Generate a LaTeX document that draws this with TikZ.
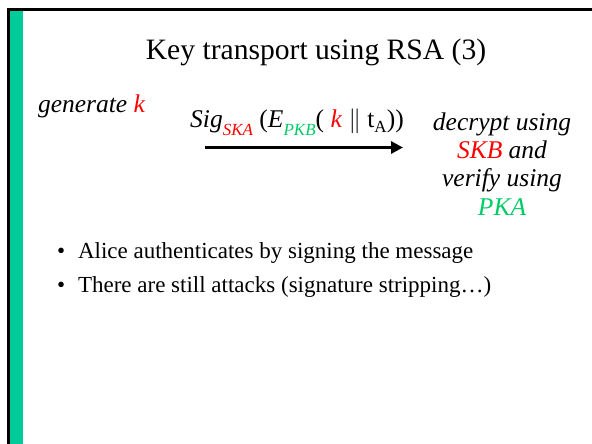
\documentclass[tikz,border=0pt]{standalone}
\usepackage{fontspec}
\setmainfont{Liberation Serif}
\usetikzlibrary{arrows.meta}
\definecolor{keyred}{RGB}{255,0,0}
\definecolor{keygreen}{RGB}{0,204,102}
\definecolor{barteal}{RGB}{0,204,153}
% lowered, smaller index text
\newcommand{\lowidx}[2]{{\fontsize{17}{17}\selectfont\raisebox{-8pt}{\textcolor{#1}{#2}}}}
\newcommand{\tidx}[1]{{\fontsize{17}{17}\selectfont\raisebox{-5pt}{#1}}}
\begin{document}
\begin{tikzpicture}[x=1pt,y=-1pt,
  every node/.style={inner sep=0pt,outer sep=0pt},
  titlefont/.style={font=\fontsize{29.6}{34}\selectfont},
  notefont/.style={font=\fontsize{25.5}{28.3}\selectfont\itshape},
  bodyfont/.style={font=\fontsize{23}{28}\selectfont},
  msgarrow/.style={line width=3pt,-{Triangle[length=12pt,width=12pt]}}]
\useasboundingbox (0,0) rectangle (592,444);
\fill[white] (0,0) rectangle (592,444);
% slide frame: teal side bar with black edges
\fill[barteal] (10,11) rectangle (22.5,444);
\draw[line width=3pt] (8.5,444) -- (8.5,9.5) -- (592,9.5);

\node[titlefont,anchor=base] (title) at (316,60) {Key transport using RSA (3)};

\node[notefont,anchor=base west] (gen) at (38,113) {generate \textcolor{keyred}{k}};

\node[font=\fontsize{25.5}{30}\selectfont,anchor=base] (msg) at (297,128)
  {\textit{Sig}\lowidx{keyred}{\textit{SKA}} (\textit{E}\lowidx{keygreen}{\textit{PKB}}( \textcolor{keyred}{\textit{k}} $\|$ t\tidx{A}))};

\coordinate (msgstart) at (205,147.5);
\coordinate (msgend) at (403,147.5);
\draw[msgarrow] (msgstart) -- (msgend);

% base anchor of a multi-line node sits on its last line
\node[notefont,anchor=base,align=center] (recv) at (502,215)
  {decrypt using\\\textcolor{keyred}{SKB} and\\verify using\\\textcolor{keygreen}{PKA}};

\node[bodyfont,anchor=base west] (dot1) at (57,258) {\textbullet};
\node[bodyfont,anchor=base west] (item1) at (78,258) {Alice authenticates by signing the message};
\node[bodyfont,anchor=base west] (dot2) at (57,292) {\textbullet};
\node[bodyfont,anchor=base west] (item2) at (78,292) {There are still attacks (signature stripping\ldots)};
\end{tikzpicture}
\end{document}
